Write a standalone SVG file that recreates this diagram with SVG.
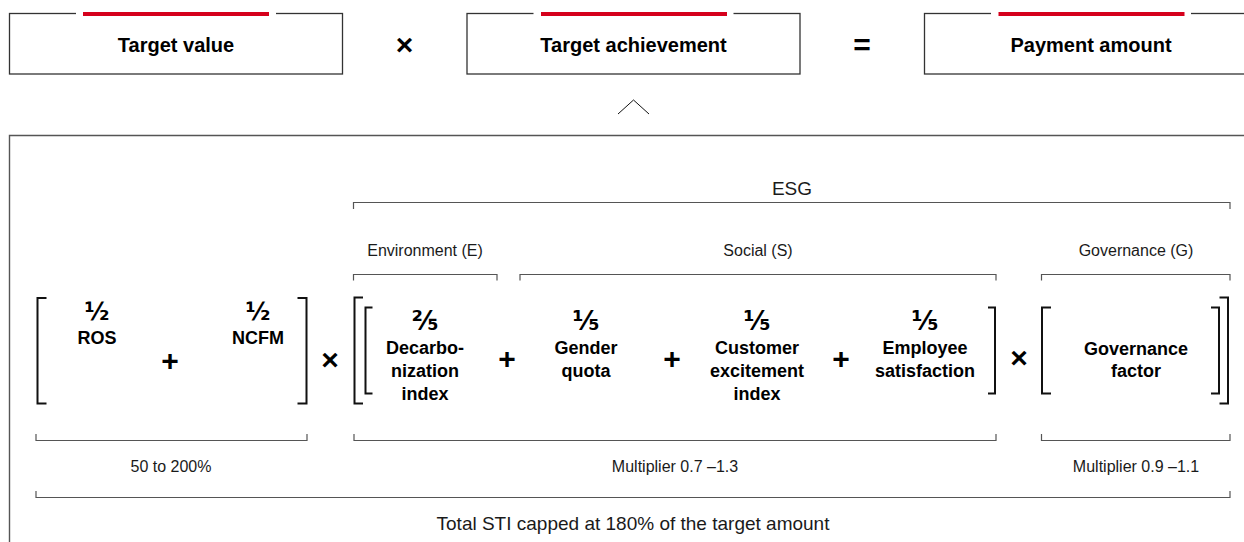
<svg xmlns="http://www.w3.org/2000/svg" width="1244" height="542" viewBox="0 0 1244 542">
<style>
.box{fill:#fff;stroke:#333;stroke-width:1.3}
.gap{fill:#fff}
.red{fill:#d5001c}
.t{font-family:"Liberation Sans",Arial,sans-serif;font-weight:bold;fill:#000;text-anchor:middle}
.top{font-size:20px}
.lbl{font-size:18px}
.reg{font-family:"Liberation Sans",Arial,sans-serif;fill:#1a1a1a;text-anchor:middle;font-size:16px}
.big{font-size:19px}
.op{font-family:"Liberation Sans",Arial,sans-serif;font-weight:bold;fill:#000;text-anchor:middle;font-size:30px}
.fr{font-family:"DejaVu Sans",sans-serif;font-weight:bold;fill:#000;text-anchor:middle;font-size:26px}
.frs{font-size:24px}
.br{fill:none;stroke:#555;stroke-width:1.2}
.sq{fill:none;stroke:#111;stroke-width:2}
.fr0{fill:none;stroke:#555;stroke-width:1.4}
.chev{fill:none;stroke:#111;stroke-width:1}
</style>

<g id="target-value">
  <rect class="box" x="9.5" y="13.5" width="333" height="60.5"/>
  <rect class="gap" x="76" y="10" width="200" height="6"/>
  <rect class="red" x="83" y="12" width="186" height="4"/>
  <text class="t top" x="176" y="52">Target value</text>
</g>
<g id="op-times-top"><text class="op" x="404.5" y="55">×</text></g>
<g id="target-achievement">
  <rect class="box" x="467" y="13.5" width="333" height="60.5"/>
  <rect class="gap" x="533.5" y="10" width="200" height="6"/>
  <rect class="red" x="541" y="12" width="186" height="4"/>
  <text class="t top" x="633.5" y="52">Target achievement</text>
</g>
<g id="op-equals-top"><text class="op" x="862" y="55">=</text></g>
<g id="payment-amount">
  <rect class="box" x="924.5" y="13.5" width="333" height="60.5"/>
  <rect class="gap" x="991" y="10" width="200" height="6"/>
  <rect class="red" x="998.5" y="12" width="186" height="4"/>
  <text class="t top" x="1091" y="52">Payment amount</text>
</g>

<g id="connectors">
  <path class="chev" d="M618 114 L633.5 100 L649 114"/>
</g>

<g id="frame">
  <path class="fr0" d="M9.5 542 V135.5 H1244"/>
</g>

<g id="esg-labels">
  <text class="reg big" x="792" y="195">ESG</text>
  <path class="br" d="M353.5 209 V202.5 H1230 V209"/>
  <text class="reg" x="425" y="256">Environment (E)</text>
  <path class="br" d="M353.5 280.5 V274.5 H497 V280.5"/>
  <text class="reg" x="758" y="256">Social (S)</text>
  <path class="br" d="M520 280.5 V274.5 H996 V280.5"/>
  <text class="reg" x="1136" y="256">Governance (G)</text>
  <path class="br" d="M1041.5 280.5 V274.5 H1230 V280.5"/>
</g>

<g id="financial">
  <path class="sq" d="M46.5 298 H37.5 V403.5 H46.5"/>
  <path class="sq" d="M297.5 298 H306.5 V403.5 H297.5"/>
  <text class="fr frs" x="97" y="320">½</text>
  <text class="t lbl" x="97" y="344">ROS</text>
  <text class="op" x="170" y="371">+</text>
  <text class="fr frs" x="258" y="320">½</text>
  <text class="t lbl" x="258" y="344">NCFM</text>
</g>
<g id="op-times-1"><text class="op" x="330" y="370">×</text></g>

<g id="esg-outer">
  <path class="sq" d="M363 297.5 H354.5 V403.5 H363"/>
  <path class="sq" d="M1219.5 297.5 H1228 V403.5 H1219.5"/>
</g>
<g id="env-social">
  <path class="sq" d="M372.5 307.5 H365.5 V393.5 H372.5"/>
  <path class="sq" d="M988 307.5 H995 V393.5 H988"/>
</g>
<g id="decarbonization">
  <text class="fr" x="425" y="330">⅖</text>
  <text class="t lbl" x="425" y="354">Decarbo-</text>
  <text class="t lbl" x="425" y="377">nization</text>
  <text class="t lbl" x="425" y="400">index</text>
</g>
<g id="op-plus-2"><text class="op" x="507" y="369">+</text></g>
<g id="gender-quota">
  <text class="fr" x="586" y="330">⅕</text>
  <text class="t lbl" x="586" y="354">Gender</text>
  <text class="t lbl" x="586" y="377">quota</text>
</g>
<g id="op-plus-3"><text class="op" x="672" y="369">+</text></g>
<g id="customer-excitement">
  <text class="fr" x="757" y="330">⅕</text>
  <text class="t lbl" x="757" y="354">Customer</text>
  <text class="t lbl" x="757" y="377">excitement</text>
  <text class="t lbl" x="757" y="400">index</text>
</g>
<g id="op-plus-4"><text class="op" x="841" y="369">+</text></g>
<g id="employee-satisfaction">
  <text class="fr" x="925" y="330">⅕</text>
  <text class="t lbl" x="925" y="354">Employee</text>
  <text class="t lbl" x="925" y="377">satisfaction</text>
</g>
<g id="op-times-2"><text class="op" x="1019" y="368">×</text></g>
<g id="governance">
  <path class="sq" d="M1051 307.5 H1042 V393.5 H1051"/>
  <path class="sq" d="M1211 307.5 H1219 V393.5 H1211"/>
  <text class="t lbl" x="1136" y="355">Governance</text>
  <text class="t lbl" x="1136" y="377">factor</text>
</g>

<g id="ranges">
  <path class="br" d="M36 434 V440.5 H307 V434"/>
  <text class="reg" x="171" y="472">50 to 200%</text>
  <path class="br" d="M354 434 V440.5 H996 V434"/>
  <text class="reg" x="675" y="472">Multiplier 0.7 –1.3</text>
  <path class="br" d="M1041.5 434 V440.5 H1230 V434"/>
  <text class="reg" x="1136" y="472">Multiplier 0.9 –1.1</text>
  <path class="br" d="M36 491 V497.5 H1230 V491"/>
  <text class="reg big" x="633" y="530">Total STI capped at 180% of the target amount</text>
</g>
</svg>
